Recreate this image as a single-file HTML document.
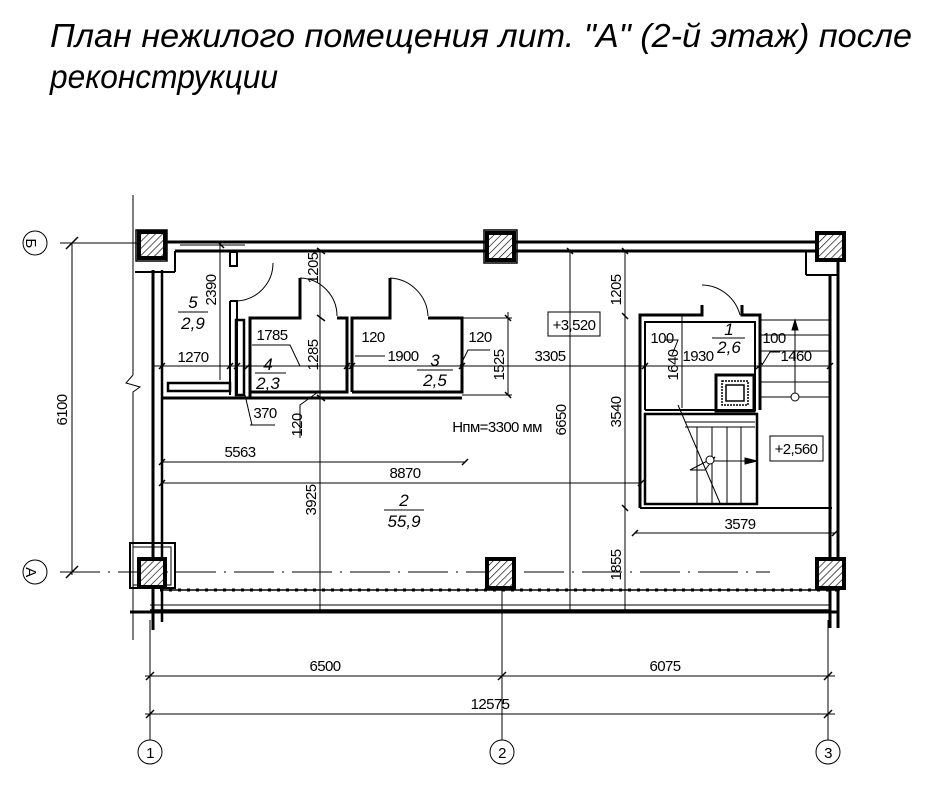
<!DOCTYPE html>
<html><head><meta charset="utf-8"><style>
html,body{margin:0;padding:0;background:#fff}
svg{display:block}
text{font-family:"Liberation Sans Narrow","Liberation Sans","DejaVu Sans",sans-serif;fill:#000}
.d{font-size:15px;letter-spacing:-0.6px}
.t{font-size:33px;font-style:italic}
</style></head><body>
<svg width="941" height="801" viewBox="0 0 941 801" xmlns="http://www.w3.org/2000/svg">
<defs>
<pattern id="h" width="5" height="5" patternUnits="userSpaceOnUse" patternTransform="rotate(45)">
<rect width="5" height="5" fill="#fff"/><line x1="0" y1="0" x2="0" y2="5" stroke="#000" stroke-width="1.3"/></pattern>
</defs>
<text class="t" x="50" y="47" textLength="862" lengthAdjust="spacingAndGlyphs">План нежилого помещения лит. "А" (2-й этаж) после</text>
<text class="t" x="50" y="88" textLength="228" lengthAdjust="spacingAndGlyphs">реконструкции</text>

<g stroke="#000" fill="none">
<line x1="133" y1="195" x2="133" y2="375" stroke-width="1"/>
<path d="M133 375 L126 383 L140 387 L133 392 V640" stroke-width="1"/>
<line x1="60" y1="243" x2="175" y2="243" stroke-width="1"/>
<line x1="60" y1="572" x2="770" y2="572" stroke-width="1" stroke-dasharray="40,8,2,8"/>
<line x1="166" y1="242" x2="815" y2="242" stroke-width="3"/>
<line x1="175" y1="251" x2="815" y2="251" stroke-width="3"/>
<line x1="153" y1="270" x2="153" y2="630" stroke-width="3"/>
<line x1="162" y1="270" x2="162" y2="622" stroke-width="2.5"/>
<line x1="135" y1="272" x2="175" y2="272" stroke-width="2"/>
<line x1="175" y1="251" x2="175" y2="272" stroke-width="2"/>
<line x1="830" y1="275" x2="830" y2="628" stroke-width="3"/>
<line x1="838" y1="262" x2="838" y2="628" stroke-width="3"/>
<line x1="806" y1="251" x2="806" y2="275" stroke-width="2"/>
<line x1="806" y1="275" x2="838" y2="275" stroke-width="2"/>
<line x1="160" y1="590" x2="840" y2="590" stroke-width="3" stroke-dasharray="3,6"/>
<line x1="160" y1="590" x2="840" y2="590" stroke-width="1.5"/>
<line x1="150" y1="605" x2="830" y2="605" stroke-width="1"/>
<line x1="150" y1="610" x2="830" y2="610" stroke-width="1.5"/>
<line x1="130" y1="612" x2="838" y2="612" stroke-width="3"/>
<rect x="130" y="543" width="45" height="45" stroke-width="2"/>
<rect x="133" y="547" width="38" height="38" stroke-width="1"/>
<!-- left small rooms -->
<rect x="230" y="252" width="7" height="14" stroke-width="2"/>
<path d="M230 301 H237 V395 M230 301 V395" stroke-width="2"/>
<path d="M273 263 A 38 38 0 0 1 237 301" stroke-width="1"/>
<rect x="236" y="320" width="8" height="75" stroke-width="2.5"/>
<rect x="168" y="383" width="62" height="8" stroke-width="2.5"/>
<path d="M250 398 V318 H300 V278 M337 318 H347 V392 H250" stroke-width="3"/>
<path d="M352 392 V318 H390 V278 M428 318 H462 V392 H352" stroke-width="3"/>
<path d="M300 278 A 38 38 0 0 1 337 316 M390 278 A 40 40 0 0 1 428 316" stroke-width="1"/>
<line x1="162" y1="398" x2="462" y2="398" stroke-width="3"/>
<!-- stair block -->
<path d="M640 508 V315 H702 V305 M742 305 V315 H760 V410" stroke-width="3"/>
<path d="M645 410 V322 H755 V410 H645" stroke-width="2"/>
<path d="M702 285 A 40 40 0 0 1 740 315" stroke-width="1"/>
<rect x="716" y="375" width="38" height="36" stroke-width="3"/>
<rect x="722" y="381" width="26" height="24" stroke-width="1.5" stroke-dasharray="2,1"/>
<rect x="726" y="385" width="18" height="16" stroke-width="1.5"/>
<rect x="645" y="414" width="112" height="90" stroke-width="2.5"/>
<path d="M640 508 H832" stroke-width="2"/>
<g stroke-width="1">
<line x1="760" y1="320" x2="830" y2="320"/><line x1="760" y1="335" x2="830" y2="335"/>
<line x1="760" y1="351" x2="830" y2="351"/><line x1="760" y1="366" x2="830" y2="366"/>
<line x1="760" y1="382" x2="830" y2="382"/><line x1="760" y1="397" x2="830" y2="397"/>
<line x1="685" y1="422" x2="755" y2="422"/><line x1="685" y1="427" x2="755" y2="427"/>
<line x1="697" y1="427" x2="697" y2="503"/><line x1="712" y1="427" x2="712" y2="503"/>
<line x1="727" y1="427" x2="727" y2="503"/><line x1="741" y1="427" x2="741" y2="503"/>
<line x1="678" y1="405" x2="720" y2="503"/>
<path d="M690 470 L715 457 L705 470 Z"/>
<line x1="707" y1="461" x2="752" y2="461"/>
<line x1="795" y1="325" x2="795" y2="397"/>
<circle cx="795" cy="397" r="4" fill="#fff"/>
<circle cx="710" cy="460" r="4" fill="#fff"/>
</g>
<path d="M792 330 L795 320 L798 330 Z M745 458 L757 461 L745 464 Z" fill="#000"/>
<rect x="548" y="312" width="52" height="24" stroke-width="1"/>
<rect x="770" y="436" width="53" height="25" stroke-width="1"/>
</g>
<g stroke="#000" stroke-width="4" fill="url(#h)">
<rect x="139" y="232" width="26" height="26"/>
<rect x="487" y="233" width="27" height="27"/>
<rect x="817" y="233" width="27" height="27"/>
<rect x="139" y="559" width="26" height="28"/>
<rect x="487" y="559" width="27" height="29"/>
<rect x="817" y="559" width="27" height="29"/>
</g>
<g stroke="#000" stroke-width="1.5" fill="none">
<rect x="484" y="230" width="33" height="33"/>
<rect x="136" y="230" width="31" height="31"/>
</g>

<g stroke="#000" stroke-width="1" fill="none">
<line x1="72" y1="243" x2="72" y2="575"/>
<path d="M66 249 L78 237 M66 578 L78 566" stroke-width="1.5"/>
<line x1="62" y1="243" x2="100" y2="243"/><line x1="62" y1="572" x2="100" y2="572"/>
<line x1="180" y1="245" x2="245" y2="245"/>
<line x1="220" y1="245" x2="220" y2="380"/>
<line x1="152" y1="366" x2="760" y2="366"/>
<line x1="320" y1="251" x2="320" y2="610"/>
<line x1="570" y1="251" x2="570" y2="610"/>
<line x1="625" y1="251" x2="625" y2="610"/>
<line x1="508" y1="312" x2="508" y2="395"/>
<line x1="462" y1="318" x2="512" y2="318"/><line x1="462" y1="395" x2="512" y2="395"/>
<line x1="682" y1="315" x2="682" y2="408"/>
<line x1="162" y1="462" x2="465" y2="462"/>
<line x1="162" y1="483" x2="642" y2="483"/>
<line x1="635" y1="533" x2="835" y2="533"/>
<path d="M250 425 H275 M245 395 L252 425 M300 438 V405 L318 392"/>
<path d="M252 345 H290 L300 366 M355 356 H385 M460 366 L468 350 H490 M672 355 L678 340 H665 M762 365 L770 352 H780"/>
<path d="M218 242 L224 248 M317 248 L325 254 M317 315 L325 321 M317 395 L325 401 M567 248 L573 254 M622 248 L628 254 M622 313 L628 319 M505 315 L511 321 M505 392 L511 398 M159 369 L165 363 M227 369 L233 363 M234 369 L240 363 M245 369 L251 363 M344 369 L350 363 M349 369 L355 363 M459 369 L465 363 M642 369 L648 363 M756 369 L762 363 M827 369 L833 363 M159 465 L165 459 M462 465 L468 459 M159 486 L165 480 M638 486 L644 480 M632 536 L638 530 M832 536 L838 530 M622 505 L628 511" stroke-width="1.5"/>
<line x1="150" y1="620" x2="150" y2="740"/>
<line x1="502" y1="590" x2="502" y2="740"/>
<line x1="828" y1="620" x2="828" y2="740"/>
<line x1="145" y1="676" x2="835" y2="676"/>
<line x1="145" y1="714" x2="835" y2="714"/>
<path d="M146 680 L154 672 M498 680 L506 672 M824 680 L832 672 M146 718 L154 710 M824 718 L832 710" stroke-width="1.5"/>
<circle cx="35" cy="243" r="12"/><circle cx="35" cy="572" r="12"/>
<circle cx="150" cy="752" r="12"/><circle cx="502" cy="752" r="12"/><circle cx="828" cy="752" r="12"/>
</g>

<g class="d">
<text transform="translate(30 243) rotate(90)" x="0" y="0" text-anchor="middle" dominant-baseline="middle" font-size="15">Б</text>
<text transform="translate(30 572) rotate(90)" x="0" y="0" text-anchor="middle" dominant-baseline="middle" font-size="15">А</text>
<text x="150" y="758" text-anchor="middle">1</text>
<text x="502" y="758" text-anchor="middle">2</text>
<text x="828" y="758" text-anchor="middle">3</text>
<text x="325" y="671" text-anchor="middle">6500</text>
<text x="665" y="671" text-anchor="middle">6075</text>
<text x="490" y="709" text-anchor="middle">12575</text>
<text transform="translate(67 410) rotate(-90)" text-anchor="middle">6100</text>
<text transform="translate(216 290) rotate(-90)" text-anchor="middle">2390</text>
<text transform="translate(318 268) rotate(-90)" text-anchor="middle">1205</text>
<text transform="translate(621 290) rotate(-90)" text-anchor="middle">1205</text>
<text transform="translate(318 355) rotate(-90)" text-anchor="middle">1285</text>
<text transform="translate(504 365) rotate(-90)" text-anchor="middle">1525</text>
<text transform="translate(678 365) rotate(-90)" text-anchor="middle">1640</text>
<text transform="translate(621 412) rotate(-90)" text-anchor="middle">3540</text>
<text transform="translate(566 420) rotate(-90)" text-anchor="middle">6650</text>
<text transform="translate(316 500) rotate(-90)" text-anchor="middle">3925</text>
<text transform="translate(621 565) rotate(-90)" text-anchor="middle">1855</text>
<text transform="translate(302 425) rotate(-90)" text-anchor="middle">120</text>
<text x="193" y="362" text-anchor="middle">1270</text>
<text x="272" y="340" text-anchor="middle">1785</text>
<text x="373" y="342" text-anchor="middle">120</text>
<text x="403" y="361" text-anchor="middle">1900</text>
<text x="480" y="342" text-anchor="middle">120</text>
<text x="550" y="361" text-anchor="middle">3305</text>
<text x="662" y="343" text-anchor="middle">100</text>
<text x="698" y="361" text-anchor="middle">1930</text>
<text x="774" y="343" text-anchor="middle">100</text>
<text x="796" y="361" text-anchor="middle">1460</text>
<text x="265" y="418" text-anchor="middle">370</text>
<text x="497" y="432" text-anchor="middle">Hпм=3300 мм</text>
<text x="240" y="457" text-anchor="middle">5563</text>
<text x="405" y="478" text-anchor="middle">8870</text>
<text x="740" y="529" text-anchor="middle">3579</text>
<text x="574" y="330" text-anchor="middle">+3,520</text>
<text x="796" y="454" text-anchor="middle">+2,560</text>
</g>
<g font-style="italic" font-size="17" text-anchor="middle">
<text x="193" y="308">5</text><text x="193" y="329">2,9</text>
<text x="268" y="370">4</text><text x="268" y="389">2,3</text>
<text x="435" y="366">3</text><text x="435" y="386">2,5</text>
<text x="729" y="335">1</text><text x="729" y="353">2,6</text>
<text x="404" y="506">2</text><text x="404" y="527">55,9</text>
</g>
<g stroke="#000" stroke-width="1">
<line x1="178" y1="312" x2="208" y2="312"/>
<line x1="255" y1="373" x2="286" y2="373"/>
<line x1="417" y1="370" x2="453" y2="370"/>
<line x1="712" y1="338" x2="745" y2="338"/>
<line x1="384" y1="510" x2="424" y2="510"/>
</g>
</svg>
</body></html>
